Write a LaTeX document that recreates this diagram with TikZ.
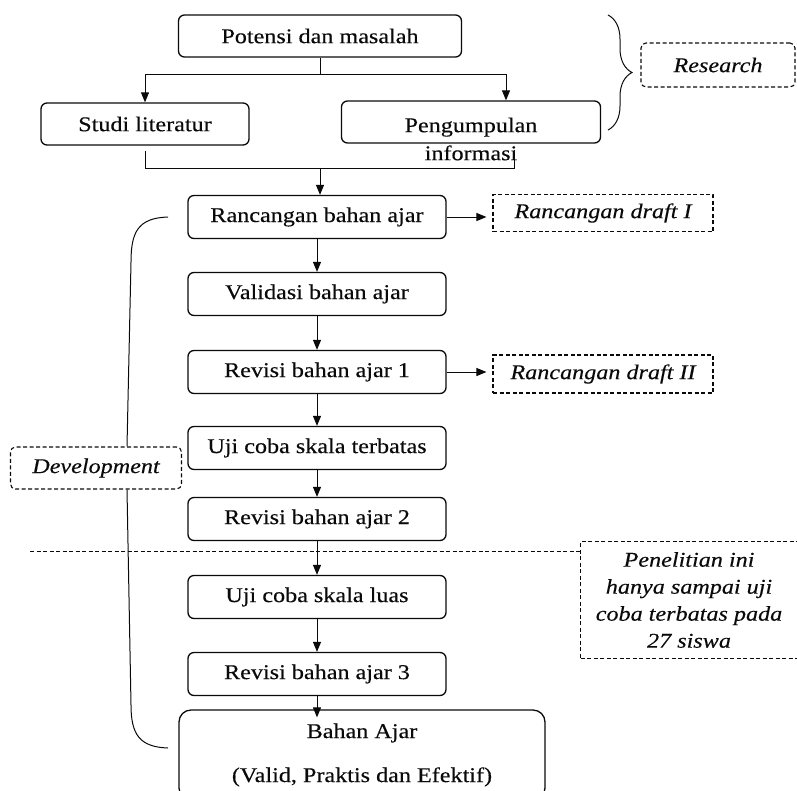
\documentclass[tikz,border=0pt]{standalone}
\usepackage{fontspec}
\setmainfont{Liberation Serif}[FakeStretch=1.15, FakeBold=0.3]
\usepackage{tikz}
\usepackage{xcolor}
\usetikzlibrary{positioning,arrows.meta,decorations.pathreplacing,calc}
\definecolor{ink}{HTML}{0A0A0A}

\begin{document}
\begin{tikzpicture}[
  x=1pt, y=-1pt,
  every node/.style={font=\fontsize{21}{26}\selectfont, color=ink},
  stepbox/.style={draw=ink, line width=1.3pt, rounded corners=6pt, minimum height=43pt, inner sep=0pt},
  notebox/.style={draw=ink, line width=1.1pt, dash pattern=on 4pt off 2.5pt, inner sep=0pt, font=\fontsize{21}{27}\selectfont\itshape},
  link/.style={draw=ink, line width=1pt},
  arr/.style={link, -{Triangle[length=10pt,width=8pt]}}
]
\useasboundingbox (0,0) rectangle (797,790);

% Research stage
\node[stepbox, minimum width=283pt, minimum height=42pt] (pot) at (320,36) {Potensi dan masalah};
\node[stepbox, minimum width=208pt, minimum height=42pt] (studi) at (145,124) {Studi literatur};
\node[stepbox, minimum width=259pt, minimum height=42pt] (peng) at (471,122) {};
\node[align=center] (pengtxt) at (471,139) {Pengumpulan\\[2pt]informasi};

\coordinate (split) at (320,74);
\draw[link] (pot) -- (split);
\draw[arr] (split) -| (studi.north);
\draw[arr] (split) -| ($(peng.north)+(35,0)$);

% merge of the two branches
\coordinate (merge) at (320,168);
\draw[link] ($(studi.south)+(0,5)$) |- (514,168) -- (514,150);

% Research label
\draw[link, decorate, decoration={brace, amplitude=24pt}] (608,15) -- (608,130);
\node[notebox, rounded corners=5pt, minimum width=154pt, minimum height=44pt] (res) at (718,65) {Research};

% Development stage
\node[stepbox, minimum width=258pt] (ranc) at (317,217) {Rancangan bahan ajar};
\node[stepbox, minimum width=258pt] (val) at (317,294) {Validasi bahan ajar};
\node[stepbox, minimum width=258pt] (rev1) at (317,372) {Revisi bahan ajar 1};
\node[stepbox, minimum width=258pt] (uji) at (317,448) {Uji coba skala terbatas};
\node[stepbox, minimum width=258pt] (rev2) at (317,519) {Revisi bahan ajar 2};
\node[stepbox, minimum width=258pt] (ujil) at (317,597) {Uji coba skala luas};
\node[stepbox, minimum width=258pt] (rev3) at (317,674) {Revisi bahan ajar 3};
\node[stepbox, minimum width=366pt, minimum height=90pt, rounded corners=12pt, align=center] (bahan) at (362,755) {Bahan Ajar\\[18pt](Valid, Praktis dan Efektif)};

\draw[arr] (merge) -- (merge |- ranc.north);
\foreach \a/\b in {ranc/val, val/rev1, rev1/uji, uji/rev2, rev2/ujil, ujil/rev3} {
  \draw[arr] (\a) -- (\b);
}
\draw[arr] (rev3.south) -- ($(rev3.south |- bahan.north)+(0,8)$);

% Drafts
\node[notebox, minimum width=220pt, minimum height=37pt] (draft1) at (603,213) {Rancangan draft I};
\node[notebox, minimum width=220pt, minimum height=38pt] (draft2) at (603,374) {Rancangan draft II};
\draw[arr] (ranc.east) -- ($(ranc.east -| draft1.west)+(-6,0)$);
\draw[arr] (rev1.east) -- ($(rev1.east -| draft2.west)+(-6,0)$);

% Development label
\node[notebox, rounded corners=5pt, minimum width=171pt, minimum height=42pt] (dev) at (96,468) {Development};
\draw[link] (168,217) .. controls (138,218) and (131,232) .. (131,262) -- ($(dev.north)+(31,0)$);
\draw[link] ($(dev.south)+(31,0)$) -- (131,705) .. controls (131,735) and (140,747) .. (168,748);

% Limit of this study
\node[notebox, minimum width=217pt, minimum height=117pt, align=center] (pen) at (689,600) {Penelitian ini\\hanya sampai uji\\coba terbatas pada\\27 siswa};
\coordinate (cut) at (30,551);
\draw[link, dash pattern=on 4pt off 2.5pt] (cut) -- (cut -| pen.west);

\end{tikzpicture}
\end{document}
